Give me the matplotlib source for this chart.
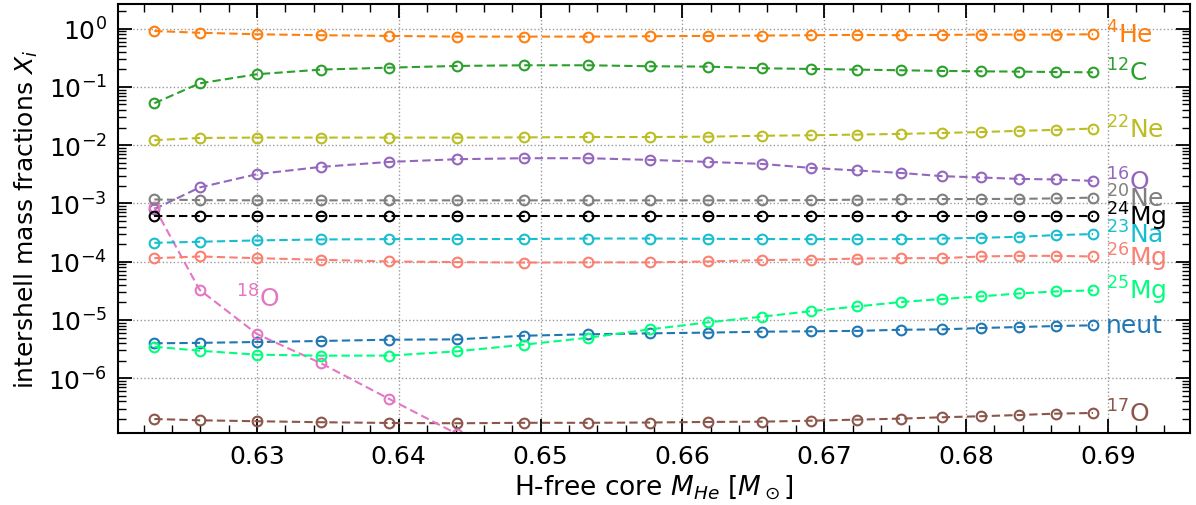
import numpy as np
import matplotlib
matplotlib.use("Agg")
import matplotlib.pyplot as plt
from matplotlib.ticker import AutoMinorLocator


# H-free core masses of the models (Msun)
m_he = [0.62276, 0.62595, 0.63000, 0.63451, 0.63933, 0.64413, 0.64883,
        0.65336, 0.65769, 0.66181, 0.66561, 0.66909, 0.67233, 0.67539,
        0.67831, 0.68103, 0.68371, 0.68632, 0.68896]

# intershell mass fractions per species
x_neut = [3.98e-6, 4.05e-6, 4.19e-6, 4.36e-6, 4.59e-6, 4.65e-6, 5.37e-6,
          5.68e-6, 5.90e-6, 6.07e-6, 6.30e-6, 6.40e-6, 6.50e-6, 6.80e-6,
          6.90e-6, 7.28e-6, 7.57e-6, 7.87e-6, 8.10e-6]
x_he4 = [0.91, 0.85, 0.80, 0.77, 0.75, 0.73, 0.73, 0.73, 0.74, 0.75,
         0.76, 0.77, 0.78, 0.77, 0.78, 0.79, 0.79, 0.79, 0.80]
x_c12 = [0.0524, 0.115, 0.165, 0.198, 0.214, 0.229, 0.235, 0.235, 0.226,
         0.223, 0.209, 0.203, 0.198, 0.193, 0.188, 0.185, 0.183, 0.180, 0.178]
x_o16 = [7.98e-4, 1.88e-3, 3.18e-3, 4.24e-3, 5.16e-3, 5.74e-3, 5.97e-3,
         5.97e-3, 5.59e-3, 5.16e-3, 4.77e-3, 4.07e-3, 3.68e-3, 3.34e-3,
         2.94e-3, 2.79e-3, 2.64e-3, 2.58e-3, 2.44e-3]
x_o17 = [2.00e-7, 1.90e-7, 1.83e-7, 1.76e-7, 1.71e-7, 1.69e-7, 1.72e-7,
         1.72e-7, 1.74e-7, 1.78e-7, 1.80e-7, 1.87e-7, 1.95e-7, 2.03e-7,
         2.14e-7, 2.23e-7, 2.34e-7, 2.47e-7, 2.54e-7]
x_o18 = [8.6e-4, 3.3e-5, 5.74e-6, 1.81e-6, 4.41e-7, 1.1e-7]
x_ne20 = [1.17e-3, 1.14e-3, 1.13e-3, 1.13e-3, 1.13e-3, 1.13e-3, 1.13e-3,
          1.13e-3, 1.13e-3, 1.13e-3, 1.13e-3, 1.14e-3, 1.16e-3, 1.18e-3,
          1.19e-3, 1.19e-3, 1.20e-3, 1.22e-3, 1.26e-3]
x_ne22 = [0.0122, 0.0133, 0.0135, 0.0135, 0.0135, 0.0135, 0.0136, 0.0138,
          0.0138, 0.0140, 0.0145, 0.0148, 0.0152, 0.0156, 0.0162, 0.0168,
          0.0176, 0.0183, 0.0193]
x_na23 = [2.11e-4, 2.20e-4, 2.32e-4, 2.41e-4, 2.44e-4, 2.45e-4, 2.45e-4,
          2.50e-4, 2.50e-4, 2.47e-4, 2.45e-4, 2.44e-4, 2.44e-4, 2.44e-4,
          2.50e-4, 2.57e-4, 2.68e-4, 2.86e-4, 2.98e-4]
x_mg24 = [6.0e-4] * 19
x_mg25 = [3.48e-6, 2.97e-6, 2.54e-6, 2.44e-6, 2.45e-6, 2.90e-6, 3.77e-6,
          4.96e-6, 6.90e-6, 9.10e-6, 1.14e-5, 1.42e-5, 1.71e-5, 2.03e-5,
          2.29e-5, 2.54e-5, 2.85e-5, 3.09e-5, 3.22e-5]
x_mg26 = [1.15e-4, 1.23e-4, 1.15e-4, 1.08e-4, 1.01e-4, 9.85e-5, 9.67e-5,
          9.75e-5, 9.75e-5, 1.01e-4, 1.066e-4, 1.09e-4, 1.13e-4, 1.15e-4,
          1.15e-4, 1.23e-4, 1.26e-4, 1.26e-4, 1.23e-4]

SPECIES = [
    # (values, colour, label)
    (x_neut, "tab:blue",   r"neut"),
    (x_he4,  "tab:orange", r"$^{4}$He"),
    (x_c12,  "tab:green",  r"$^{12}$C"),
    (x_o16,  "tab:purple", r"$^{16}$O"),
    (x_o17,  "tab:brown",  r"$^{17}$O"),
    (x_o18,  "tab:pink",   r"$^{18}$O"),
    (x_ne20, "tab:gray",   r"$^{20}$Ne"),
    (x_ne22, "tab:olive",  r"$^{22}$Ne"),
    (x_na23, "tab:cyan",   r"$^{23}$Na"),
    (x_mg24, "black",      r"$^{24}$Mg"),
    (x_mg25, "springgreen", r"$^{25}$Mg"),
    (x_mg26, "salmon",     r"$^{26}$Mg"),
]

# O18 drops off the bottom, so its label sits next to the curve instead
O18_LABEL_POS = (0.6285, 2.4e-5)

FS = 18


fig = plt.figure(figsize=(11.96, 5.06), dpi=100)
ax = fig.add_axes([0.0987, 0.1423, 0.8963, 0.8477])

for vals, col, lab in SPECIES:
    xs = m_he[:len(vals)]
    ax.plot(xs, vals, ls="--", dashes=(4, 2), lw=1.5, color=col,
            marker="o", mfc="none", mec=col, ms=7, mew=1.5)
    if lab == r"$^{18}$O":
        ax.text(*O18_LABEL_POS, lab, color=col, fontsize=FS,
                ha="left", va="center")
    else:
        ax.annotate(lab, (xs[-1], vals[-1]), xytext=(9, 0),
                    textcoords="offset points", color=col, fontsize=FS,
                    ha="left", va="center")

ax.set_yscale("log")
ax.set_xlim(0.6202, 0.6958)
ax.set_ylim(1.15e-7, 2.64)

ax.xaxis.set_minor_locator(AutoMinorLocator(5))
ax.tick_params(which="both", direction="in", top=True, right=True,
               labelsize=FS)
ax.tick_params(which="major", length=10, width=1.3)
ax.tick_params(which="minor", length=6, width=1.0)
ax.tick_params(axis="y", which="major", pad=8)
ax.tick_params(axis="x", which="major", pad=8)
for sp in ax.spines.values():
    sp.set_linewidth(1.5)

ax.grid(True, which="major", ls=":", color="gray", lw=1.0, alpha=0.8)

ax.set_xlabel(r"H-free core $M_{He}$ [$M_\odot$]", fontsize=19, labelpad=3)
ax.set_ylabel(r"intershell mass fractions $X_i$", fontsize=FS, labelpad=6)

fig.savefig("out.png", dpi=100)
